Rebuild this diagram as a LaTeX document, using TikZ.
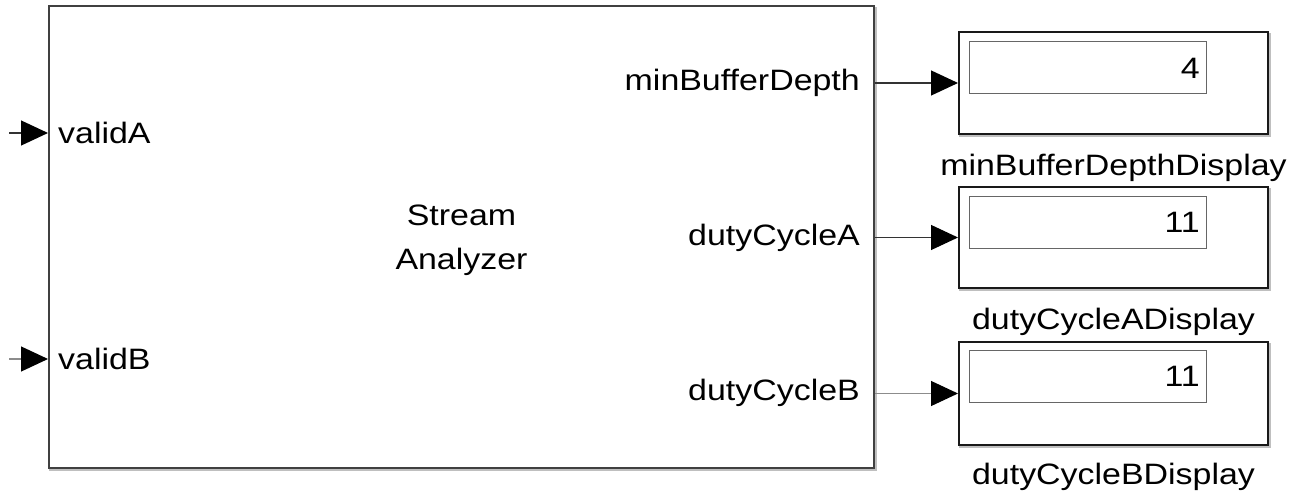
\documentclass[tikz,border=0pt]{standalone}
\usepackage{fontspec}
\setmainfont[FakeStretch=1.15]{Liberation Sans}
\usetikzlibrary{arrows.meta}
\begin{document}
\begin{tikzpicture}[x=1pt,y=-1pt,
  font=\fontsize{29.5}{44}\selectfont,
  blk/.style={draw=black!75, line width=2pt, fill=white, inner sep=0pt,
    preaction={draw=black!25, line width=2.5pt, transform canvas={shift={(1.5pt,-2pt)}}}},
  disp/.style={blk, draw=black!90, minimum width=309pt},
  inbox/.style={draw=black!60, line width=1pt, fill=white, minimum width=237pt, minimum height=52pt, inner sep=0pt},
  sig/.style={line width=1.2pt, draw=black!80, -{Triangle[length=27pt,width=25pt,color=black]}},
  lbl/.style={inner sep=0pt}]
\useasboundingbox (0,0) rectangle (1294,497);
% main block
\node[blk, minimum width=825pt, minimum height=461pt] (main) at (461.5,237) {};
\node[lbl, align=center] (title) at (461.5,240) {Stream\\Analyzer};
% input ports
\node[lbl, anchor=west] (pa) at (58,133) {validA};
\node[lbl, anchor=west] (pb) at (58,359) {validB};
\coordinate (ina) at (9,133);
\coordinate (inb) at (9,359);
\draw[sig] (ina) -- (main.west |- ina);
\draw[sig, draw=black!45] (inb) -- (main.west |- inb);
% output ports
\node[lbl, anchor=east] (o1) at (860,83) {minBufferDepth};
\node[lbl, anchor=east] (o2) at (860,238) {dutyCycleA};
\node[lbl, anchor=east] (o3) at (860,393) {dutyCycleB};
% displays
\node[disp, minimum height=102pt] (d1) at (1113.5,83) {};
\node[disp, minimum height=101pt] (d2) at (1113.5,237.5) {};
\node[disp, minimum height=103pt] (d3) at (1113.5,393.5) {};
\node[inbox] (v1) at (1087.5,68) {};
\node[inbox] (v2) at (1087.5,222.5) {};
\node[inbox] (v3) at (1087.5,376.5) {};
\node[lbl, anchor=east] (n1) at (1200,68) {4};
\node[lbl, anchor=east] (n2) at (1200,222.5) {11};
\node[lbl, anchor=east] (n3) at (1200,376.5) {11};
\node[lbl] (l1) at (1113.5,168) {minBufferDepthDisplay};
\node[lbl] (l2) at (1113.5,322) {dutyCycleADisplay};
\node[lbl] (l3) at (1113.5,477) {dutyCycleBDisplay};
% connectors
\draw[sig] (main.east |- d1) -- (d1.west);
\draw[sig] (main.east |- d2) -- (d2.west);
\draw[sig, draw=black!45] (main.east |- d3) -- (d3.west);
\end{tikzpicture}
\end{document}
